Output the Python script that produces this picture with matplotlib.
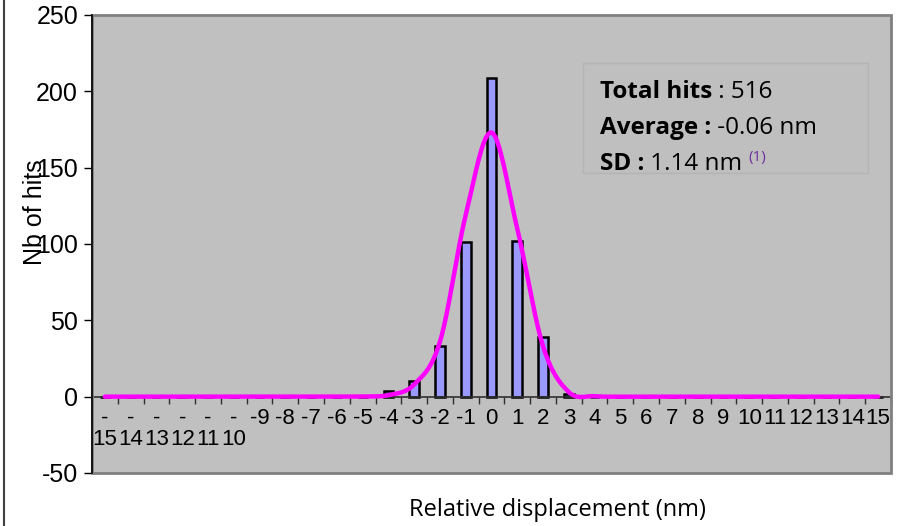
import numpy as np
import matplotlib.pyplot as plt
from matplotlib.patches import Rectangle
from matplotlib.lines import Line2D
from matplotlib import transforms

plt.rcParams['axes.unicode_minus'] = False

# displacement classes (nm) and hit counts
displacement = list(range(-15, 16))
hits = [0, 0, 0, 0, 0, 0, 0, 0, 0, 0, 0, 4, 10, 33, 101, 209, 102, 39, 2, 0, 0,
        0, 0, 0, 0, 0, 0, 0, 0, 0, 0]
# gaussian fit evaluated at each class
fit = [0, 0, 0, 0, 0, 0, 0, 0, 0, 0, 0.2, 1, 8, 36, 119, 173, 110, 33, 3, 0.3,
       0, 0, 0, 0, 0, 0, 0, 0, 0, 0, 0]
tick_labels = ['-\n15', '-\n14', '-\n13', '-\n12', '-\n11', '-\n10'] + \
    [str(v) for v in range(-9, 16)]

total_hits = 516
average = -0.06
sd = 1.14

arial = ['Liberation Sans', 'DejaVu Sans']
calib = ['Open Sans', 'DejaVu Sans']


def smooth(xs, ys, n=20):
    # catmull-rom spline through the points, like a smoothed line in a spreadsheet
    xs = np.asarray(xs, float)
    ys = np.asarray(ys, float)
    px = np.concatenate([[2 * xs[0] - xs[1]], xs, [2 * xs[-1] - xs[-2]]])
    py = np.concatenate([[ys[0]], ys, [ys[-1]]])
    outx, outy = [], []
    t = np.linspace(0, 1, n, endpoint=False)
    for i in range(1, len(px) - 2):
        for arr, out in ((px, outx), (py, outy)):
            p0, p1, p2, p3 = arr[i - 1], arr[i], arr[i + 1], arr[i + 2]
            out.extend(0.5 * (2 * p1 + (-p0 + p2) * t
                              + (2 * p0 - 5 * p1 + 4 * p2 - p3) * t ** 2
                              + (-p0 + 3 * p1 - 3 * p2 + p3) * t ** 3))
    outx.append(xs[-1])
    outy.append(ys[-1])
    return np.array(outx), np.array(outy)


W, H = 901, 526
fig = plt.figure(figsize=(W / 100, H / 100), dpi=100)
fig.patch.set_facecolor('white')
ax = fig.add_axes([92 / W, 1 - 473 / H, 799 / W, 458 / H])
ax.set_facecolor('#C0C0C0')

ax.bar(displacement, hits, width=0.38, color='#9999FF', edgecolor='black',
       linewidth=1.8, zorder=2)
sx, sy = smooth(displacement, fit)
ax.plot(sx, sy, color='#FF00FF', linewidth=3.2, solid_capstyle='round', zorder=3)

ax.set_xlim(-15.5, 15.5)
ax.set_ylim(-50, 250)
ax.set_yticks(range(-50, 251, 50))
ax.tick_params(axis='y', direction='out', length=6, width=1, color='black',
               labelsize=18, pad=4)
for lab in ax.get_yticklabels():
    lab.set_family(arial)

# category axis crossing at zero, ticks between the classes
ax.spines['bottom'].set_position(('data', 0))
ax.spines['bottom'].set_color('#303030')
ax.spines['bottom'].set_linewidth(1.2)
ax.set_xticks(np.arange(-15.5, 16, 1))
ax.set_xticklabels([])
ax.tick_params(axis='x', direction='out', length=5, width=1, color='#303030')
for s in ('top', 'right'):
    ax.spines[s].set_visible(False)
ax.spines['left'].set_color('black')
ax.spines['left'].set_linewidth(1.2)
ax.spines['left'].set_zorder(5)
ax.add_patch(Rectangle((0, 0), 1, 1, transform=ax.transAxes, fill=False,
                       edgecolor='#808080', linewidth=2, zorder=4, clip_on=False))

lab_trans = transforms.offset_copy(ax.transData, fig=fig, x=0, y=-11, units='dots')
for x, lab in zip(displacement, tick_labels):
    ax.text(x, 0, lab, transform=lab_trans, ha='center', va='top', fontsize=16,
            family=arial, linespacing=1.0, clip_on=False)

fig.text(557 / W, 1 - 516 / H, 'Relative displacement (nm)', ha='center',
         va='baseline', fontsize=17, family=calib)
fig.text(35 / W, 1 - 212 / H, 'Nb of hits', rotation=90, ha='center',
         va='center', fontsize=18, family=arial)

# statistics box
ax.add_patch(Rectangle((583 / W, 1 - 173 / H), 285 / W, 110 / H,
                       transform=fig.transFigure, facecolor='#BFBFBF',
                       edgecolor='#B4B4B4', linewidth=1, zorder=1))
lines = [('Total hits', ' : %d' % total_hits),
         ('Average :', ' %.2f nm' % average),
         ('SD :', ' %.2f nm ' % sd)]
base = [104, 140, 176]
for (b, r), yb in zip(lines, base):
    t1 = fig.text(600 / W, 1 - yb / H, b, fontsize=17.5, fontweight='bold',
                  family=calib, va='bottom', ha='left')
    t2 = ax.annotate(r, xy=(1, 0), xycoords=t1, va='bottom', ha='left',
                     fontsize=17.5, family=calib)
last = t2
ax.annotate('(1)', xy=(1, 0.45), xycoords=last, va='bottom', ha='left',
            fontsize=11, family=calib, color='#7030A0')

fig.add_artist(Line2D([3.5 / W, 3.5 / W], [0, 1], color='#404040', linewidth=1.5))

fig.savefig('out.png', dpi=100)
